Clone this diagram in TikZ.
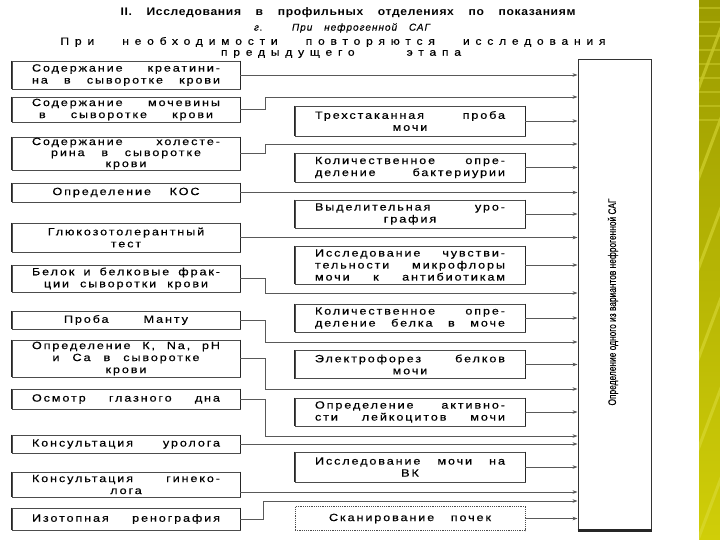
\documentclass[tikz,border=0pt]{standalone}
\usepackage{fontspec}
\usepackage{graphicx}
\setmainfont{Liberation Sans}
\newfontfamily\boxfont[LetterSpace=18,FakeStretch=1.2,FakeBold=0.4]{Liberation Sans}
\newfontfamily\widefont[LetterSpace=55,FakeStretch=1.15,FakeBold=0.4]{Liberation Sans}
\newfontfamily\titlefont[LetterSpace=6,FakeStretch=1.1]{Liberation Sans}
\newfontfamily\itfont[LetterSpace=10,FakeBold=0.3]{Liberation Sans}
\newfontfamily\labfont[FakeBold=0.3]{Liberation Sans}
\usetikzlibrary{arrows.meta}
\newcommand\sprd[2]{\makebox[#1][s]{#2}}
\tikzset{
  sides/.style={append after command={
    (\tikzlastnode.north west) edge[draw=black!85,line width=1.5pt] (\tikzlastnode.south west)
    (\tikzlastnode.north east) edge[draw=black!85,line width=1.5pt] (\tikzlastnode.south east)}},
  basebox/.style={draw=black!70, line width=0.8pt, inner sep=0pt, align=center,
    font=\boxfont\fontsize{10.5}{12}\selectfont},
  lbox/.style={basebox, sides, minimum width=228pt, text width=188pt},
  mbox/.style={basebox, sides, minimum width=230pt, text width=190pt},
  dbox/.style={basebox, minimum width=230pt, text width=190pt, dash pattern=on 1.2pt off 1pt},
  arr/.style={draw=black!65, line width=0.7pt, -{Stealth[length=5pt,width=3.6pt]}},
}
\begin{document}
\begin{tikzpicture}[x=1pt,y=-1pt]
\useasboundingbox (0,0) rectangle (720,540);
\fill[white] (0,0) rectangle (720,540);
% decorative strip
\shade[top color={rgb,255:red,155;green,155;blue,0}, bottom color={rgb,255:red,208;green,206;blue,8}] (699,0) rectangle (720,540);
\begin{scope}
\clip (699,0) rectangle (720,540);
\foreach \k in {0,90,...,540}{
  \draw[line width=3pt, draw={rgb,255:red,220;green,220;blue,60}, opacity=0.55] (724,\k+20) -- (696,\k+95);
}
\foreach \k in {8,22,...,120}{
  \draw[line width=1.2pt, draw={rgb,255:red,200;green,200;blue,40}, opacity=0.6] (699,\k) -- (720,\k);
}
\end{scope}

% titles
\node[font=\titlefont\bfseries\fontsize{11}{12}\selectfont] (t1) at (348,13) {\sprd{455pt}{II. Исследования в профильных отделениях по показаниям}};
\node[font=\itfont\itshape\fontsize{10}{12}\selectfont] (t2) at (342,28) {\sprd{176pt}{г. При нефрогенной САГ}};
\node[font=\widefont\fontsize{10.5}{12}\selectfont] (t3) at (333,42) {\sprd{545pt}{При необходимости повторяются исследования}};
\node[font=\widefont\fontsize{10.5}{12}\selectfont] (t4) at (341,54) {\sprd{240pt}{предыдущего этапа}};

% right box
\node[draw=black!80, line width=1pt, minimum width=73pt, minimum height=470pt, inner sep=0pt] (R) at (614.5,295) {};
\draw[line width=2.2pt, black!85] (R.south west) -- (R.south east);
\node[rotate=90, font=\labfont\fontsize{11}{12}\selectfont, inner sep=0pt] (Rl) at (613,302) {\scalebox{0.76}[1]{Определение одного из вариантов нефрогенной САГ}};

% left boxes
\node[lbox, minimum height=28pt] (b1) at (126,75) {Содержание\hfill креатини-\\на\hfill в\hfill сыворотке\hfill крови};
\node[lbox, minimum height=25pt] (b2) at (126,109.5) {Содержание\hfill мочевины\\\sprd{174pt}{в\hfill сыворотке\hfill крови}};
\node[lbox, minimum height=33pt, font=\boxfont\fontsize{10.5}{11}\selectfont] (b3) at (126,153.5) {Содержание\hfill холесте-\\\sprd{150pt}{рина\hfill в\hfill сыворотке}\\крови};
\node[lbox, minimum height=19pt] (b4) at (126,192.5) {\sprd{147pt}{Определение\hfill КОС}};
\node[lbox, minimum height=29pt] (b5) at (126,237.5) {Глюкозотолерантный\\тест};
\node[lbox, minimum height=27pt] (b6) at (126,278.5) {Белок\hfill и\hfill белковые\hfill фрак-\\\sprd{164pt}{ции\hfill сыворотки\hfill крови}};
\node[lbox, minimum height=18pt] (b7) at (126,320) {\sprd{124pt}{Проба\hfill Манту}};
\node[lbox, minimum height=37pt] (b8) at (126,358.5) {Определение\hfill К,\hfill Na,\hfill pH\\\sprd{147pt}{и\hfill Са\hfill в\hfill сыворотке}\\крови};
\node[lbox, minimum height=20pt] (b9) at (126,399) {Осмотр\hfill глазного\hfill дна};
\node[lbox, minimum height=18pt] (b10) at (126,444) {Консультация\hfill уролога};
\node[lbox, minimum height=25pt] (b11) at (126,484.5) {Консультация\hfill гинеко-\\лога};
\node[lbox, minimum height=22pt] (b12) at (126,519) {Изотопная\hfill ренография};

% middle boxes
\node[mbox, minimum height=30pt] (mA) at (410,121) {Трехстаканная\hfill проба\\мочи};
\node[mbox, minimum height=29pt] (mB) at (410,167.5) {Количественное\hfill опре-\\деление\hfill бактериурии};
\node[mbox, minimum height=28pt] (mC) at (410,214) {Выделительная\hfill уро-\\графия};
\node[mbox, minimum height=38pt] (mD) at (410,265) {Исследование\hfill чувстви-\\тельности\hfill микрофлоры\\мочи\hfill к\hfill антибиотикам};
\node[mbox, minimum height=28pt] (mE) at (410,318) {Количественное\hfill опре-\\деление\hfill белка\hfill в\hfill моче};
\node[mbox, minimum height=28pt] (mF) at (410,364.5) {Электрофорез\hfill белков\\мочи};
\node[mbox, minimum height=28pt] (mG) at (410,412) {Определение\hfill активно-\\сти\hfill лейкоцитов\hfill мочи};
\node[mbox, minimum height=30pt] (mH) at (410,467) {Исследование\hfill мочи\hfill на\\ВК};
\node[dbox, minimum height=24pt] (mI) at (410,518.5) {\sprd{162pt}{Сканирование\hfill почек}};

% connectors from left boxes
\draw[arr] (b1.east) -- (b1.east -| R.west);
\draw[arr] (b2.east) -- ++(25,0) |- (R.west |- 0,97);
\draw[arr] (b3.east) -- ++(25,0) |- (R.west |- 0,144);
\draw[arr] (b4.east) -- (b4.east -| R.west);
\draw[arr] (b5.east) -- (b5.east -| R.west);
\draw[arr] (b6.east) -- ++(25,0) |- (R.west |- 0,293);
\draw[arr] (b7.east) -- ++(25,0) |- (R.west |- 0,342);
\draw[arr] (b8.east) -- ++(25,0) |- (R.west |- 0,389);
\draw[arr] (b9.east) -- ++(25,0) |- (R.west |- 0,436);
\draw[arr] (b10.east) -- (b10.east -| R.west);
\draw[arr] ([yshift=-7.5pt]b11.east) -- ([yshift=-7.5pt]b11.east -| R.west);
\draw[arr] (b12.east) -- ++(23,0) |- (R.west |- 0,501);

% connectors from middle boxes
\foreach \m in {mA,mB,mC,mD,mE,mF,mG,mH,mI}{
  \draw[arr] (\m.east) -- (\m.east -| R.west);
}
\end{tikzpicture}
\end{document}
